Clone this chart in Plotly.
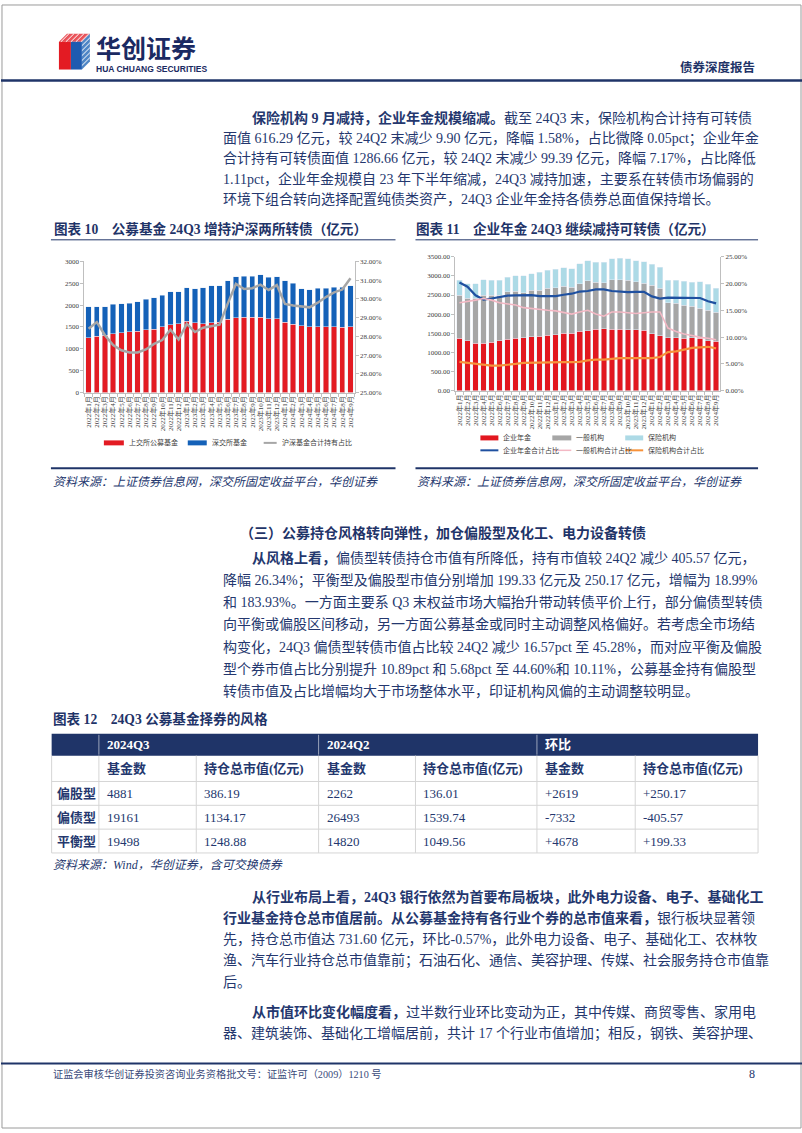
import plotly.graph_objects as go

W, H = 802, 1133
FONT = "Liberation Serif, Noto Sans CJK SC, serif"
CJK = "Noto Sans CJK SC, sans-serif"
NAVY = "#1F3468"
TEXT = "#24376E"
TICK = "#404040"
AXIS = "#BFBFBF"

# ---------------- data ----------------
months = ["2022年1月", "2022年2月", "2022年3月", "2022年4月", "2022年5月", "2022年6月",
          "2022年7月", "2022年8月", "2022年9月", "2022年10月", "2022年11月", "2022年12月",
          "2023年1月", "2023年2月", "2023年3月", "2023年4月", "2023年5月", "2023年6月",
          "2023年7月", "2023年8月", "2023年9月", "2023年10月", "2023年11月", "2023年12月",
          "2024年1月", "2024年2月", "2024年3月", "2024年4月", "2024年5月", "2024年6月",
          "2024年7月", "2024年8月", "2024年9月"]

# chart 10
sse_fund = [1258, 1288, 1310, 1350, 1370, 1386, 1400, 1440, 1447, 1500, 1553, 1575,
            1630, 1600, 1575, 1600, 1613, 1674, 1712, 1727, 1727, 1727, 1690, 1690,
            1613, 1560, 1523, 1500, 1500, 1500, 1500, 1490, 1508]
szse_fund = [702, 672, 650, 665, 660, 654, 675, 690, 718, 727, 757, 735,
             764, 770, 819, 840, 827, 886, 938, 933, 940, 970, 954, 960,
             947, 940, 847, 850, 886, 886, 910, 920, 932]
fund_ratio = [28.41, 28.76, 28.06, 27.53, 27.26, 27.14, 27.14, 27.30, 27.60, 27.80, 28.36, 27.83,
              28.67, 28.23, 28.46, 28.55, 28.62, 29.75, 30.80, 30.53, 30.57, 30.76, 30.48, 30.74,
              29.73, 29.65, 29.60, 29.55, 29.80, 30.10, 30.35, 30.50, 31.10]

# chart 11
annuity = [1370, 1300, 1240, 1240, 1260, 1300, 1350, 1370, 1380, 1410, 1420, 1450,
           1460, 1500, 1500, 1560, 1570, 1610, 1620, 1600, 1600, 1590, 1590, 1580,
           1490, 1440, 1380, 1380, 1370, 1386, 1375, 1300, 1287]
general_inst = [1120, 1110, 1180, 1250, 1240, 1190, 1230, 1230, 1180, 1210, 1210, 1220,
                1230, 1230, 1200, 1240, 1300, 1220, 1200, 1300, 1300, 1290, 1250, 1230,
                1270, 1240, 920, 910, 860, 824, 785, 800, 767]
insurance = [400, 390, 380, 410, 390, 400, 380, 400, 440, 440, 460, 480,
             480, 480, 490, 510, 530, 530, 530, 550, 560, 570, 560, 560,
             540, 540, 590, 600, 630, 626, 680, 680, 616]
annuity_ratio = [20.2, 19.4, 17.8, 17.0, 17.2, 17.5, 17.75, 17.8, 17.85, 17.85, 17.65, 17.6,
                 17.65, 17.9, 18.1, 18.5, 18.6, 18.9, 18.9, 18.6, 18.5, 18.4, 18.45, 18.45,
                 17.6, 17.2, 17.35, 17.35, 17.3, 17.35, 17.3, 16.7, 16.3]
general_ratio = [16.4, 16.6, 16.9, 17.2, 16.9, 16.4, 16.15, 16.0, 15.5, 15.3, 15.2, 15.0,
                 14.9, 14.6, 14.3, 14.7, 15.0, 14.3, 13.9, 14.7, 14.7, 14.55, 14.4, 14.55,
                 14.7, 14.7, 11.7, 11.05, 10.6, 10.3, 9.95, 9.8, 9.5]
insurance_ratio = [5.4, 5.2, 5.0, 4.85, 4.7, 4.7, 4.8, 5.0, 5.2, 5.25, 5.25, 5.35,
                   5.35, 5.35, 5.35, 5.4, 5.65, 5.8, 5.8, 6.0, 6.1, 6.1, 6.1, 6.1,
                   6.1, 6.3, 7.2, 7.35, 7.7, 8.0, 8.1, 8.2, 7.9]

# table 12
table_groups = ["2024Q3", "2024Q2", "环比"]
table_subheads = ["基金数", "持仓总市值(亿元)"]
style_types = ["偏股型", "偏债型", "平衡型"]
q3_funds = [4881, 19161, 19498]
q3_value = [386.19, 1134.17, 1248.88]
q2_funds = [2262, 26493, 14820]
q2_value = [136.01, 1539.74, 1049.56]
chg_funds = [2619, -7332, 4678]
chg_value = [250.17, -405.57, 199.33]

# ---------------- helpers ----------------
def px(x):
    return x / W


def py(y):
    return 1 - y / H


annotations = []
shapes = []


def txt(x, y, s, size=14, color=TEXT, anchor="left", family=FONT):
    annotations.append(dict(x=px(x), y=py(y), xref="paper", yref="paper", text=s,
                            showarrow=False, xanchor=anchor, yanchor="middle",
                            font=dict(size=size, color=color, family=family)))


def hline(x0, x1, y, color=NAVY, width=1):
    shapes.append(dict(type="line", xref="paper", yref="paper", x0=px(x0), x1=px(x1),
                       y0=py(y), y1=py(y), line=dict(color=color, width=width)))


def vline(x, y0, y1, color, width=1):
    shapes.append(dict(type="line", xref="paper", yref="paper", x0=px(x), x1=px(x),
                       y0=py(y0), y1=py(y1), line=dict(color=color, width=width), layer="above"))


def rect(x0, x1, y0, y1, color):
    shapes.append(dict(type="rect", xref="paper", yref="paper", x0=px(x0), x1=px(x1),
                       y0=py(y1), y1=py(y0), fillcolor=color, line=dict(width=0)))


def path(points, color):
    d = "M " + " L ".join(f"{px(a):.5f},{py(b):.5f}" for a, b in points) + " Z"
    shapes.append(dict(type="path", xref="paper", yref="paper", path=d, fillcolor=color,
                       line=dict(width=0)))


fig = go.Figure()

# ---------------- chart 10 ----------------
C10_RED = "#E31B23"
C10_BLUE = "#1461B8"
C10_GRAY = "#A6A6A6"
fig.add_trace(go.Bar(x=months, y=sse_fund, name="上交所公募基金", marker_color=C10_RED,
                     width=0.66, xaxis="x", yaxis="y"))
fig.add_trace(go.Bar(x=months, y=szse_fund, name="深交所基金", marker_color=C10_BLUE,
                     width=0.66, xaxis="x", yaxis="y"))
fig.add_trace(go.Scatter(x=months, y=fund_ratio, name="沪深基金合计持有占比", mode="lines",
                         line=dict(color=C10_GRAY, width=2.5), xaxis="x", yaxis="y2"))

# ---------------- chart 11 ----------------
C11_RED = "#E2171F"
C11_GRAY = "#A6A6A6"
C11_LBLUE = "#ADDAE6"
C11_BLUE = "#1F50A0"
C11_PINK = "#F3B8C4"
C11_ORANGE = "#F7923A"
fig.add_trace(go.Bar(x=months, y=annuity, name="企业年金", marker_color=C11_RED,
                     width=0.7, xaxis="x2", yaxis="y3"))
fig.add_trace(go.Bar(x=months, y=general_inst, name="一般机构", marker_color=C11_GRAY,
                     width=0.7, xaxis="x2", yaxis="y3"))
fig.add_trace(go.Bar(x=months, y=insurance, name="保险机构", marker_color=C11_LBLUE,
                     width=0.7, xaxis="x2", yaxis="y3"))
fig.add_trace(go.Scatter(x=months, y=annuity_ratio, name="企业年金合计占比", mode="lines",
                         line=dict(color=C11_BLUE, width=2.2), xaxis="x2", yaxis="y4"))
fig.add_trace(go.Scatter(x=months, y=general_ratio, name="一般机构合计占比", mode="lines",
                         line=dict(color=C11_PINK, width=1.6), xaxis="x2", yaxis="y4"))
fig.add_trace(go.Scatter(x=months, y=insurance_ratio, name="保险机构合计占比", mode="lines",
                         line=dict(color=C11_ORANGE, width=2.2), xaxis="x2", yaxis="y4"))

# ---------------- table 12 (drawn as layout cells) ----------------
def signed(v, fmt):
    return ("+" if v > 0 else "") + format(v, fmt)


col_x = [50.7, 98, 195.5, 318, 415, 536.6, 635, 758]
row_y = [735, 757, 783, 807, 831, 855]
GRID = "#D5D5D5"
rect(col_x[0], col_x[-1], row_y[0], row_y[1], NAVY)
for gi, g in enumerate(table_groups):
    txt(col_x[1 + 2 * gi] + 6, (row_y[0] + row_y[1]) / 2, f"<b>{g}</b>", size=13, color="white")
for xs in (col_x[1], col_x[3], col_x[5]):
    vline(xs, row_y[0] + 1, row_y[1] - 1, "rgba(255,255,255,0.55)")
for yy in row_y[2:]:
    hline(col_x[0], col_x[-1], yy, GRID, 1)
for xs in col_x:
    vline(xs, row_y[1], row_y[-1], GRID)
body_cols = [
    [str(v) for v in q3_funds], [f"{v:.2f}" for v in q3_value],
    [str(v) for v in q2_funds], [f"{v:.2f}" for v in q2_value],
    [signed(v, "d") for v in chg_funds], [signed(v, ".2f") for v in chg_value],
]
for ci in range(6):
    txt(col_x[ci + 1] + 6, (row_y[1] + row_y[2]) / 2, f"<b>{table_subheads[ci % 2]}</b>",
        size=13, color=TEXT)
for ri, name in enumerate(style_types):
    yc = (row_y[2 + ri] + row_y[3 + ri]) / 2
    txt(col_x[0] + 3, yc, f"<b>{name}</b>", size=13, color=TEXT)
    for ci in range(6):
        txt(col_x[ci + 1] + 6, yc, body_cols[ci][ri], size=13, color=TEXT)

# ---------------- page furniture ----------------
shapes.append(dict(type="rect", xref="paper", yref="paper", x0=px(1), x1=px(801), y0=py(1132),
                   y1=py(1), line=dict(color="#9A9A9A", width=1)))
hline(0, 802, 77, NAVY, 2.5)
hline(0, 802, 1067, NAVY, 2)
hline(50, 395, 237.5, NAVY, 1)
hline(415, 758, 237.5, NAVY, 1)
hline(50, 395, 467.5, NAVY, 2)
hline(415, 758, 467.5, NAVY, 2)

# logo emblem
path([(58, 38), (66, 30), (89, 30), (81, 38)], "#E9545B")
path([(81, 38), (89, 30), (89, 58), (81, 66)], "#4F86C6")
path([(58, 38), (70, 38), (70, 66), (58, 66)], "#E31B23")
path([(70, 38), (81, 38), (81, 66), (70, 66)], "#1E5BB0")
for k in range(5):
    shapes.append(dict(type="line", xref="paper", yref="paper",
                       x0=px(60 + k * 5), y0=py(38), x1=px(68 + k * 5), y1=py(30),
                       line=dict(color="white", width=1)))
    shapes.append(dict(type="line", xref="paper", yref="paper",
                       x0=px(81), y0=py(42 + k * 5), x1=px(89), y1=py(34 + k * 5),
                       line=dict(color="white", width=1)))
txt(93, 43, "<b>华创证券</b>", size=25, color="#1B2A62", family=CJK)
txt(93, 65, "<b>HUA CHUANG SECURITIES</b>", size=8.5, color="#1B2A62",
    family="Liberation Sans Narrow, Liberation Sans, sans-serif")
txt(757, 63, "<b>债券深度报告</b>", size=12.5, color=NAVY, anchor="right", family=CJK)

BODY = 14
# paragraph 1
p1 = [
    (249, "<b>保险机构 9 月减持，企业年金规模缩减。</b>截至 24Q3 末，保险机构合计持有可转债"),
    (220, "面值 616.29 亿元，较 24Q2 末减少 9.90 亿元，降幅 1.58%，占比微降 0.05pct；企业年金"),
    (220, "合计持有可转债面值 1286.66 亿元，较 24Q2 末减少 99.39 亿元，降幅 7.17%，占比降低"),
    (220, "1.11pct，企业年金规模自 23 年下半年缩减，24Q3 减持加速，主要系在转债市场偏弱的"),
    (220, "环境下组合转向选择配置纯债类资产，24Q3 企业年金持各债券总面值保持增长。"),
]
for i, (x, s) in enumerate(p1):
    txt(x, 115 + 20.4 * i, s, size=BODY)

txt(51, 227, "<b>图表 10　公募基金 24Q3 增持沪深两所转债（亿元）</b>", size=13.6, color=NAVY)
txt(414, 227, "<b>图表 11　企业年金 24Q3 继续减持可转债（亿元）</b>", size=13.6, color=NAVY)

# legends chart 10
LEG = 7
rect(103, 123, 439.5, 444.5, C10_RED)
txt(126, 442, "上交所公募基金", size=LEG, color=TICK)
rect(187, 206, 439.5, 444.5, C10_BLUE)
txt(209, 442, "深交所基金", size=LEG, color=TICK)
hline(263, 276, 442, C10_GRAY, 2)
txt(279, 442, "沪深基金合计持有占比", size=LEG, color=TICK)

# legends chart 11
rect(480, 498, 434.5, 439.5, C11_RED)
txt(501, 437, "企业年金", size=LEG, color=TICK)
rect(552, 571, 434.5, 439.5, C11_GRAY)
txt(574, 437, "一般机构", size=LEG, color=TICK)
rect(625, 643, 434.5, 439.5, C11_LBLUE)
txt(646, 437, "保险机构", size=LEG, color=TICK)
hline(480, 498, 449.5, C11_BLUE, 2)
txt(501, 449.5, "企业年金合计占比", size=LEG, color=TICK)
hline(553, 571, 449.5, C11_PINK, 1.5)
txt(574, 449.5, "一般机构合计占比", size=LEG, color=TICK)
hline(625, 643, 449.5, C11_ORANGE, 2)
txt(646, 449.5, "保险机构合计占比", size=LEG, color=TICK)

src = "<i>资料来源：上证债券信息网，深交所固定收益平台，华创证券</i>"
txt(50, 481, src, size=12, color=TEXT)
txt(415, 481, src, size=12, color=TEXT)

txt(237, 533, "<b>（三）公募持仓风格转向弹性，加仓偏股型及化工、电力设备转债</b>", size=14, color=NAVY)

p2 = [
    (249, "<b>从风格上看，</b>偏债型转债持仓市值有所降低，持有市值较 24Q2 减少 405.57 亿元，"),
    (220, "降幅 26.34%；平衡型及偏股型市值分别增加 199.33 亿元及 250.17 亿元，增幅为 18.99%"),
    (220, "和 183.93%。一方面主要系 Q3 末权益市场大幅抬升带动转债平价上行，部分偏债型转债"),
    (220, "向平衡或偏股区间移动，另一方面公募基金或同时主动调整风格偏好。若考虑全市场结"),
    (220, "构变化，24Q3 偏债型转债市值占比较 24Q2 减少 16.57pct 至 45.28%，而对应平衡及偏股"),
    (220, "型个券市值占比分别提升 10.89pct 和 5.68pct 至 44.60%和 10.11%，公募基金持有偏股型"),
    (220, "转债市值及占比增幅均大于市场整体水平，印证机构风偏的主动调整较明显。"),
]
for i, (x, s) in enumerate(p2):
    txt(x, 558 + 22.3 * i, s, size=BODY)

txt(50, 720, "<b>图表 12　24Q3 公募基金择券的风格</b>", size=13.6, color=NAVY)
txt(50, 867, "<i>资料来源：Wind，华创证券，含可交换债券</i>", size=12, color=TEXT)

p3 = [
    (249, 899, "<b>从行业布局上看，24Q3 银行依然为首要布局板块，此外电力设备、电子、基础化工</b>"),
    (220, 920.5, "<b>行业基金持仓总市值居前。从公募基金持有各行业个券的总市值来看，</b>银行板块显著领"),
    (220, 942, "先，持仓总市值达 731.60 亿元，环比-0.57%，此外电力设备、电子、基础化工、农林牧"),
    (220, 963.5, "渔、汽车行业持仓总市值靠前；石油石化、通信、美容护理、传媒、社会服务持仓市值靠"),
    (220, 985, "后。"),
    (249, 1015.5, "<b>从市值环比变化幅度看，</b>过半数行业环比变动为正，其中传媒、商贸零售、家用电"),
    (220, 1037, "器、建筑装饰、基础化工增幅居前，共计 17 个行业市值增加；相反，钢铁、美容护理、"),
]
for x, y, s in p3:
    txt(x, y, s, size=BODY)

txt(50, 1078, "证监会审核华创证券投资咨询业务资格批文号：证监许可（2009）1210 号", size=10.2, color="#3A4A7A")
txt(757, 1078, "8", size=12, color=TEXT, anchor="right")

# ---------------- axes ----------------
tickfont = dict(size=7, color=TICK, family=FONT)
common_x = dict(type="category", tickangle=-90, tickfont=tickfont, showline=True, linecolor=AXIS,
                ticks="outside", ticklen=3, tickcolor=AXIS, tickson="boundaries",
                showgrid=False, zeroline=False, range=[-0.5, 32.5])
common_y = dict(tickfont=tickfont, showline=True, linecolor=AXIS, ticks="outside", ticklen=3,
                tickcolor=AXIS, showgrid=False, zeroline=False)

fig.update_layout(
    width=W, height=H, autosize=False,
    margin=dict(l=0, r=0, t=0, b=0, pad=0),
    paper_bgcolor="white", plot_bgcolor="white",
    barmode="stack", showlegend=False,
    xaxis=dict(domain=[px(83.6), px(354)], anchor="y", **common_x),
    yaxis=dict(domain=[py(391.3), py(259.3)], anchor="x", range=[0, 3000], dtick=500, **common_y),
    yaxis2=dict(overlaying="y", side="right", anchor="x", range=[25, 32], dtick=1,
                tickformat=".2f", ticksuffix="%", **common_y),
    xaxis2=dict(domain=[px(455), px(720)], anchor="y3", **common_x),
    yaxis3=dict(domain=[py(389.5), py(254.5)], anchor="x2", range=[0, 3500], dtick=500,
                tickformat=".2f", **common_y),
    yaxis4=dict(overlaying="y3", side="right", anchor="x2", range=[0, 25], dtick=5,
                tickformat=".2f", ticksuffix="%", **common_y),
    annotations=annotations,
    shapes=shapes,
)

fig.write_html("out.html",
               config={"displayModeBar": False},
               post_script="document.body.style.margin='0px';document.body.style.padding='0px';"
                           "document.body.style.overflow='hidden';")
